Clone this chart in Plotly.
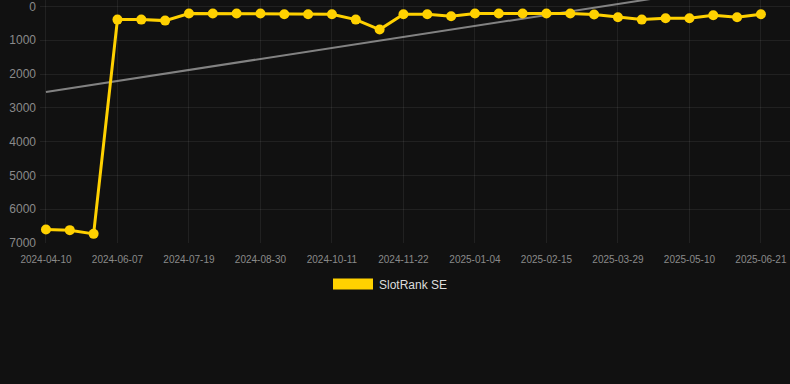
import numpy as np
import plotly.graph_objects as go

dates = [
    "2024-04-10", "2024-04-29", "2024-05-18", "2024-06-07", "2024-06-21", "2024-07-05",
    "2024-07-19", "2024-08-02", "2024-08-16", "2024-08-30", "2024-09-13", "2024-09-27",
    "2024-10-11", "2024-10-25", "2024-11-08", "2024-11-22", "2024-12-06", "2024-12-20",
    "2025-01-04", "2025-01-18", "2025-02-01", "2025-02-15", "2025-03-01", "2025-03-15",
    "2025-03-29", "2025-04-12", "2025-04-26", "2025-05-10", "2025-05-24", "2025-06-07",
    "2025-06-21",
]
rank_se = [
    6600, 6620, 6730, 390, 390, 420,
    210, 210, 210, 210, 230, 230,
    230, 390, 685, 230, 230, 290,
    210, 210, 210, 210, 210, 240,
    320, 390, 350, 350, 260, 320,
    230,
]
y_ticks = [0, 1000, 2000, 3000, 4000, 5000, 6000, 7000]
series_name = "SlotRank SE"

# linear trend over the series
idx = np.arange(len(rank_se))
slope, intercept = np.polyfit(idx, rank_se, 1)
trend = intercept + slope * idx

YELLOW = "#ffd100"
BG = "#111111"
GRID = "rgba(255,255,255,0.07)"
TICK = "#8a8a8a"

fig = go.Figure()
fig.add_trace(go.Scatter(
    x=dates, y=trend, mode="lines",
    line=dict(color="rgba(150,150,150,0.85)", width=2),
    showlegend=False, hoverinfo="skip", cliponaxis=True,
))
fig.add_trace(go.Scatter(
    x=dates, y=rank_se, mode="lines+markers", name=series_name,
    line=dict(color=YELLOW, width=3),
    marker=dict(color=YELLOW, size=10),
    showlegend=False,
))

L, R, T, B = 40, 0, 0, 141
W, H = 790, 384
plot_w = W - L - R
plot_h = H - T - B

def px_x(px):
    return (px - L) / plot_w

def px_y(py):
    return (H - B - py) / plot_h

fig.add_shape(type="rect", xref="paper", yref="paper",
              x0=px_x(333), x1=px_x(373), y0=px_y(289.5), y1=px_y(278.5),
              fillcolor=YELLOW, line=dict(width=0))
fig.add_annotation(xref="paper", yref="paper", x=px_x(377), y=px_y(284.5),
                   xanchor="left", yanchor="middle", showarrow=False,
                   text=series_name, font=dict(color="#dddddd", size=12))

fig.update_layout(
    width=W, height=H,
    margin=dict(l=L, r=R, t=T, b=B, pad=0),
    paper_bgcolor=BG, plot_bgcolor=BG,
    font=dict(family="Liberation Sans, Arial, sans-serif", color=TICK),
    showlegend=False,
)
fig.update_xaxes(
    type="category", range=[-0.25, 31.22],
    tickvals=dates[::3], ticktext=dates[::3],
    showgrid=True, gridcolor=GRID, gridwidth=1,
    zeroline=False, showline=False, ticks="",
    tickfont=dict(size=10, color=TICK), ticklabelstandoff=9,
    ticklabeloverflow="allow",
)
fig.update_yaxes(
    range=[7000, -190], tickvals=y_ticks, ticktext=[str(v) for v in y_ticks],
    showgrid=True, gridcolor=GRID, gridwidth=1,
    zeroline=False, showline=False, ticks="",
    tickfont=dict(size=12, color=TICK), ticklabelstandoff=3,
    ticklabeloverflow="allow",
)

fig.write_html(
    "out.html",
    config={"displayModeBar": False},
    post_script="document.body.style.margin='0';document.body.style.background='#111111';",
)
